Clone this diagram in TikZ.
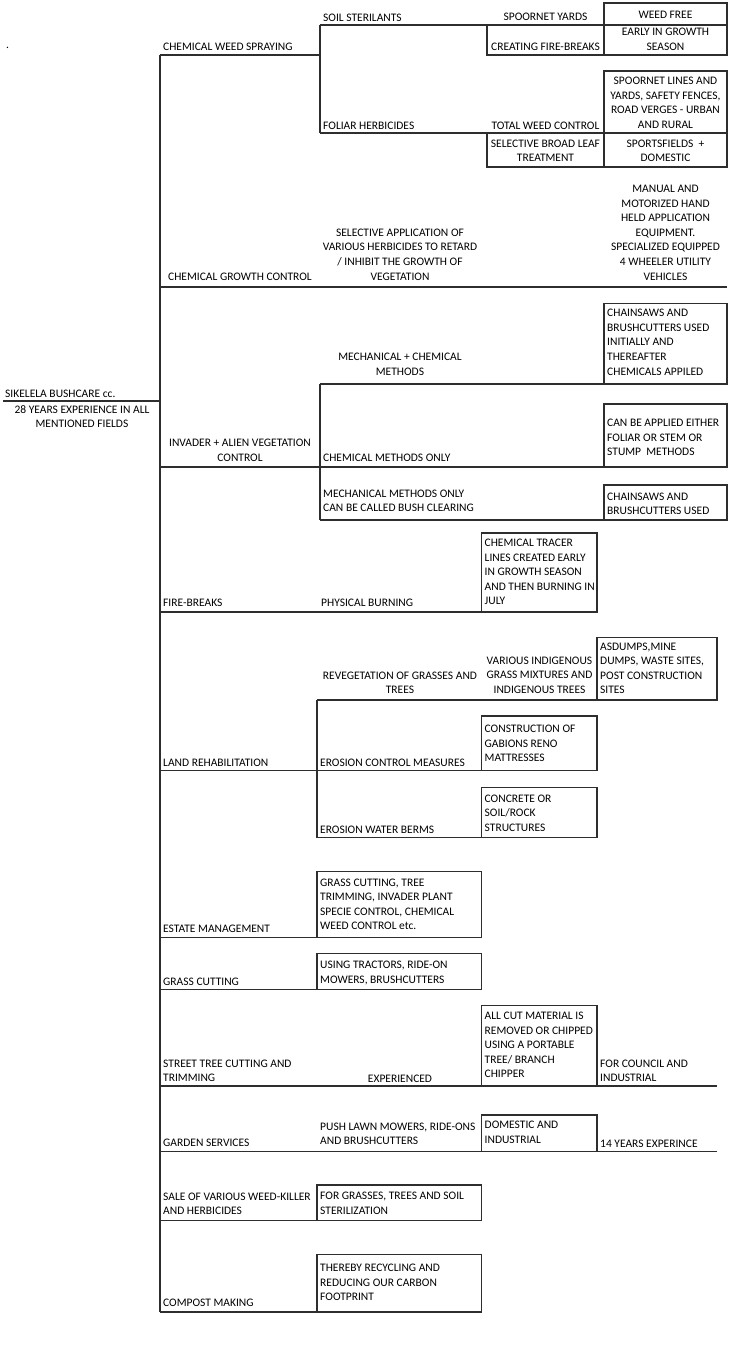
\documentclass[tikz,border=0pt]{standalone}
\usepackage{fontspec}
\setmainfont{Carlito}
\tikzset{
  txt/.style={font=\fontsize{11.5}{14}\selectfont, inner sep=0pt, text=black},
  rule/.style={line width=1.1pt, draw=black!82},
  cellbox/.style={rule, rectangle}
}
\newcommand\cellL[4]{%
  \foreach \l [count=\i] in {#4} {\node[txt, anchor=base west] (#1-\i) at (#2, {#3+14.6*(\i-1)}) {\l};}}
\newcommand\cellC[4]{%
  \foreach \l [count=\i] in {#4} {\node[txt, anchor=base] (#1-\i) at (#2, {#3+14.6*(\i-1)}) {\l};}}
\begin{document}
\begin{tikzpicture}[x=1pt,y=-1pt]
\fill[white] (0,0) rectangle (739,1357);
\useasboundingbox (0,0) rectangle (739,1357);

% ---------- tree coordinates ----------
\coordinate (root) at (160,55);
\coordinate (rootend) at (160,1312);
\coordinate (sikL) at (3,401);
\coordinate (sikR) at (160,401);

% ---------- lines ----------
\draw[rule] (root) -- (rootend);
\draw[rule] (sikL) -- (sikR);

% chemical weed spraying
\draw[rule] (root) -- (320,55);
\draw[rule] (320,25) -- (604,25);
\draw[rule] (320,25) -- (320,133);
\draw[rule] (320,133) -- (727,133);
\draw[rule] (604,3) rectangle (727,25);
\draw[rule] (604,25) rectangle (727,55);
\draw[rule] (487,25) -- (487,55) -- (604,55);
\draw[rule] (604,71) rectangle (727,133);
\draw[rule] (487,133) rectangle (604,167);
\draw[rule] (604,133) rectangle (727,167);

% chemical growth control
\draw[rule] (160,287) -- (727,287);

% invader
\draw[rule] (604,303.5) rectangle (727,384);
\draw[rule] (320,384) -- (604,384);
\draw[rule] (320,384) -- (320,520);
\draw[rule] (604,404) rectangle (727,467);
\draw[rule] (160,467) -- (604,467);
\draw[rule] (604,485) rectangle (727,520);
\draw[rule] (320,520) -- (604,520);

% fire-breaks
\draw[rule] (481.5,533) rectangle (597,612);
\draw[rule] (160,612) -- (481.5,612);

% land rehabilitation
\draw[rule] (597,637.5) rectangle (717,700);
\draw[rule] (317,700) -- (597,700);
\draw[rule] (317,700) -- (317,837.5);
\draw[rule] (481.5,716) rectangle (597,770.5);
\draw[rule] (160,770.5) -- (481.5,770.5);
\draw[rule] (481.5,787.5) rectangle (597,837.5);
\draw[rule] (317,837.5) -- (481.5,837.5);

% estate management
\draw[rule] (317,871.5) rectangle (481.5,937.3);
\draw[rule] (160,937.3) -- (317,937.3);

% grass cutting
\draw[rule] (317,953.3) rectangle (481.5,989.3);
\draw[rule] (160,989.3) -- (317,989.3);

% street tree cutting
\draw[rule] (481.5,1005.7) rectangle (597,1086);
\draw[rule] (160,1086) -- (717,1086);

% garden services
\draw[rule] (481.5,1115) rectangle (597,1151.7);
\draw[rule] (160,1151.7) -- (717,1151.7);

% sale
\draw[rule] (317,1185) rectangle (481.5,1220.7);
\draw[rule] (160,1220.7) -- (317,1220.7);

% compost
\draw[rule] (317,1254.3) rectangle (481.5,1312);
\draw[rule] (160,1312) -- (317,1312);

% ---------- texts ----------
\node[txt, anchor=base west] (dot) at (6,48) {.};
\cellL{soil}{323}{21}{SOIL STERILANTS}
\cellC{yards}{545.5}{20.7}{SPOORNET YARDS}
\cellC{weedfree}{665.5}{19}{WEED FREE}
\cellC{early}{665.5}{35.7}{EARLY IN GROWTH,SEASON}
\cellC{creating}{545.5}{50}{CREATING FIRE-BREAKS}
\cellL{cws}{163}{50}{CHEMICAL WEED SPRAYING}
\cellC{lines}{665.5}{84.5}{SPOORNET LINES AND,{YARDS, SAFETY FENCES,},ROAD VERGES - URBAN,AND RURAL}
\cellL{foliar}{323}{129.3}{FOLIAR HERBICIDES}
\cellC{total}{545.5}{129.3}{TOTAL WEED CONTROL}
\cellC{broad}{545.5}{147}{SELECTIVE BROAD LEAF,TREATMENT}
\cellC{sports}{665.5}{147}{SPORTSFIELDS\ \ +,DOMESTIC}

\cellC{manual}{665.5}{192.4}{MANUAL AND,MOTORIZED HAND,HELD APPLICATION,EQUIPMENT.,SPECIALIZED EQUIPPED,4 WHEELER UTILITY,VEHICLES}
\cellC{selapp}{400}{236.2}{SELECTIVE APPLICATION OF,VARIOUS HERBICIDES TO RETARD,/ INHIBIT THE GROWTH OF,VEGETATION}
\cellC{cgc}{240}{280}{CHEMICAL GROWTH CONTROL}

\cellL{chain}{607}{316.7}{CHAINSAWS AND,BRUSHCUTTERS USED,INITIALLY AND,THEREAFTER,CHEMICALS APPILED}
\cellC{mechchem}{400}{360.5}{MECHANICAL + CHEMICAL,METHODS}
\cellL{sik}{5}{397.3}{SIKELELA BUSHCARE cc.}
\cellC{years}{82}{413.3}{28 YEARS EXPERIENCE IN ALL,MENTIONED FIELDS}
\cellL{canbe}{607}{426.7}{CAN BE APPLIED EITHER,FOLIAR OR STEM OR,STUMP\ \ METHODS}
\cellC{invader}{240}{446.5}{INVADER + ALIEN VEGETATION,CONTROL}
\cellL{chemonly}{323}{461.5}{CHEMICAL METHODS ONLY}
\cellL{mechonly}{323}{497}{MECHANICAL METHODS ONLY,CAN BE CALLED BUSH CLEARING}
\cellL{chain2}{607}{500}{CHAINSAWS AND,BRUSHCUTTERS USED}

\cellL{tracer}{484.5}{546.5}{CHEMICAL TRACER,LINES CREATED EARLY,IN GROWTH SEASON,AND THEN BURNING IN,JULY}
\cellL{fire}{163}{606}{FIRE-BREAKS}
\cellL{burn}{321}{606}{PHYSICAL BURNING}

\cellL{dumps}{600}{650}{{ASDUMPS,MINE},{DUMPS, WASTE SITES,},POST CONSTRUCTION,SITES}
\cellC{indig}{539.5}{664}{VARIOUS INDIGENOUS,GRASS MIXTURES AND,INDIGENOUS TREES}
\cellC{reveg}{400}{679}{REVEGETATION OF GRASSES AND,TREES}
\cellL{gabions}{484.5}{732.5}{CONSTRUCTION OF,GABIONS RENO,MATTRESSES}
\cellL{land}{163}{766}{LAND REHABILITATION}
\cellL{erosion}{320}{766}{EROSION CONTROL MEASURES}
\cellL{concrete}{484.5}{802}{CONCRETE OR,SOIL/ROCK,STRUCTURES}
\cellL{berms}{320}{833}{EROSION WATER BERMS}

\cellL{estatebox}{320}{886}{{GRASS CUTTING, TREE},{TRIMMING, INVADER PLANT},{SPECIE CONTROL, CHEMICAL},WEED CONTROL etc.}
\cellL{estate}{163}{932}{ESTATE MANAGEMENT}
\cellL{tractors}{320}{968.5}{{USING TRACTORS, RIDE-ON},{MOWERS, BRUSHCUTTERS}}
\cellL{grass}{163}{985.5}{GRASS CUTTING}

\cellL{cut}{484.5}{1019.5}{ALL CUT MATERIAL IS,REMOVED OR CHIPPED,USING A PORTABLE,TREE/ BRANCH,CHIPPER}
\cellL{street}{163}{1067}{STREET TREE CUTTING AND,TRIMMING}
\cellC{exp}{400}{1082.5}{EXPERIENCED}
\cellL{council}{600}{1067}{FOR COUNCIL AND,INDUSTRIAL}

\cellL{push}{320}{1130}{{PUSH LAWN MOWERS, RIDE-ONS},AND BRUSHCUTTERS}
\cellL{domestic}{484.5}{1128.5}{DOMESTIC AND,INDUSTRIAL}
\cellL{garden}{163}{1146.5}{GARDEN SERVICES}
\cellL{fourteen}{600}{1147.5}{14 YEARS EXPERINCE}

\cellL{sale}{163}{1200}{SALE OF VARIOUS WEED-KILLER,AND HERBICIDES}
\cellL{forgrass}{320}{1199.5}{{FOR GRASSES, TREES AND SOIL},STERILIZATION}
\cellL{compost}{163}{1306.5}{COMPOST MAKING}
\cellL{thereby}{320}{1271.5}{THEREBY RECYCLING AND,REDUCING OUR CARBON,FOOTPRINT}
\end{tikzpicture}
\end{document}
